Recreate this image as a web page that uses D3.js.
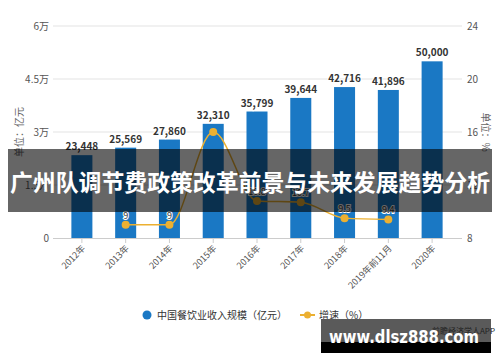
<!DOCTYPE html>
<html>
<head>
  <meta charset="utf-8">
  <title>餐饮业收入规模</title>
  <style>
    body { margin: 0; background: white; }
    svg { display: block; font-family: "Noto Sans CJK SC", "Noto Sans", sans-serif; }
  </style>
</head>
<body>
  <svg width="500" height="362"></svg>

  <script src="https://d3js.org/d3.v7.min.js"></script>
  <script>
    const years = ["2012年", "2013年", "2014年", "2015年", "2016年", "2017年", "2018年", "2019年前11月", "2020年"];
    const revenue = [23448, 25569, 27860, 32310, 35799, 39644, 42716, 41896, 50000];
    const growth = [null, 9, 9, 16, 10.8, 10.7, 9.5, 9.4, null];
    const leftTicks = [0, 15000, 30000, 45000, 60000];
    const leftTickLabels = ["0", "1.5万", "3万", "4.5万", "6万"];
    const rightTicks = [8, 12, 16, 20, 24];

    const barColor = "#1a78c4";
    const lineColor = "#ecb031";
    const svg = d3.select("svg");

    const x = d3.scaleBand().domain(years).range([60, 454]).paddingInner(0.52).paddingOuter(0.26);
    const yL = d3.scaleLinear().domain([0, 60000]).range([238, 26]);
    const yR = d3.scaleLinear().domain([8, 24]).range([238, 26]);
    const cx = d => x(d) + x.bandwidth() / 2;

    // grid
    svg.append("g").selectAll("line")
      .data(leftTicks.slice(1))
      .join("line")
      .attr("x1", 53).attr("x2", 462)
      .attr("y1", d => yL(d)).attr("y2", d => yL(d))
      .attr("stroke", "#e3e3e3");

    // left axis labels
    svg.append("g").selectAll("text")
      .data(leftTicks)
      .join("text")
      .attr("x", 49).attr("y", d => yL(d) + 4)
      .attr("text-anchor", "end")
      .attr("font-size", 10).attr("fill", "#555")
      .text((d, i) => leftTickLabels[i]);

    // right axis labels
    svg.append("g").selectAll("text")
      .data(rightTicks)
      .join("text")
      .attr("x", 467).attr("y", d => yR(d) + 4)
      .attr("font-size", 10).attr("fill", "#555")
      .text(d => d);

    svg.append("text")
      .attr("transform", "translate(23,132) rotate(-90)")
      .attr("text-anchor", "middle").attr("font-size", 10).attr("fill", "#666")
      .text("单位：亿元");
    svg.append("text")
      .attr("transform", "translate(482,132) rotate(90)")
      .attr("text-anchor", "middle").attr("font-size", 10).attr("fill", "#666")
      .text("单位：%");

    // bars
    svg.append("g").selectAll("rect")
      .data(revenue)
      .join("rect")
      .attr("x", (d, i) => x(years[i]))
      .attr("y", d => yL(d))
      .attr("width", x.bandwidth())
      .attr("height", d => yL(0) - yL(d))
      .attr("fill", barColor);

    // x axis
    svg.append("line")
      .attr("x1", 53).attr("x2", 462).attr("y1", 238.5).attr("y2", 238.5)
      .attr("stroke", "#ccc");
    svg.append("g").selectAll("line")
      .data(years)
      .join("line")
      .attr("x1", d => cx(d)).attr("x2", d => cx(d))
      .attr("y1", 238.5).attr("y2", 243)
      .attr("stroke", "#ccc");
    svg.append("g").selectAll("text")
      .data(years)
      .join("text")
      .attr("transform", d => `translate(${cx(d) + 4},${249}) rotate(-45)`)
      .attr("text-anchor", "end")
      .attr("font-size", 9).attr("fill", "#555")
      .text(d => d);

    // bar value labels
    svg.append("g").selectAll("text")
      .data(revenue)
      .join("text")
      .attr("x", (d, i) => cx(years[i]))
      .attr("y", d => yL(d) - 5)
      .attr("text-anchor", "middle")
      .attr("font-size", 10).attr("font-weight", "bold")
      .attr("fill", "#333")
      .attr("stroke", "white").attr("stroke-width", 2).attr("paint-order", "stroke")
      .text(d => d3.format(",")(d));

    // growth line
    const pts = growth.map((g, i) => ({ year: years[i], g })).filter(p => p.g !== null);
    const line = d3.line().x(p => cx(p.year)).y(p => yR(p.g)).curve(d3.curveMonotoneX);
    svg.append("path")
      .attr("d", line(pts))
      .attr("fill", "none").attr("stroke", lineColor).attr("stroke-width", 1.5);
    svg.append("g").selectAll("circle")
      .data(pts)
      .join("circle")
      .attr("cx", p => cx(p.year)).attr("cy", p => yR(p.g))
      .attr("r", 4).attr("fill", lineColor);
    // the 2015 label sits under the bar label in the original, so it is left out
    svg.append("g").selectAll("text")
      .data(pts.filter(p => p.year !== "2015年"))
      .join("text")
      .attr("x", p => cx(p.year)).attr("y", p => yR(p.g) - 6)
      .attr("text-anchor", "middle")
      .attr("font-size", 9).attr("fill", "#333")
      .attr("stroke", "white").attr("stroke-width", 2).attr("paint-order", "stroke")
      .text(p => p.g);

    // legend
    svg.append("circle").attr("cx", 147).attr("cy", 315).attr("r", 4.5).attr("fill", barColor);
    svg.append("text").attr("x", 157).attr("y", 319)
      .attr("font-size", 10).attr("fill", "#333").text("中国餐饮业收入规模（亿元）");
    svg.append("line").attr("x1", 300).attr("x2", 315).attr("y1", 315).attr("y2", 315)
      .attr("stroke", lineColor).attr("stroke-width", 2);
    svg.append("circle").attr("cx", 307.5).attr("cy", 315).attr("r", 3.5).attr("fill", lineColor);
    svg.append("text").attr("x", 319).attr("y", 319)
      .attr("font-size", 10).attr("fill", "#333").text("增速（%）");

    // title banner
    svg.append("rect")
      .attr("x", 8).attr("y", 149).attr("width", 484).attr("height", 63)
      .attr("fill", "black").attr("fill-opacity", 0.6);
    svg.append("text")
      .attr("x", 250).attr("y", 191)
      .attr("text-anchor", "middle")
      .attr("font-size", 23).attr("font-weight", "bold").attr("fill", "white")
      .attr("textLength", 480).attr("lengthAdjust", "spacingAndGlyphs")
      .text("广州队调节费政策改革前景与未来发展趋势分析");

    // site mark bottom right
    svg.append("rect").attr("x", 321).attr("y", 319).attr("width", 170).attr("height", 23).attr("fill", "#5a5a5a");
    svg.append("rect").attr("x", 321).attr("y", 342).attr("width", 170).attr("height", 11).attr("fill", "black");
    svg.append("text").attr("x", 495).attr("y", 334).attr("text-anchor", "end")
      .attr("font-size", 8).attr("fill", "#222").text("前瞻经济学人APP");
    svg.append("text").attr("x", 404).attr("y", 343).attr("text-anchor", "middle")
      .attr("font-size", 17).attr("font-weight", "bold").attr("fill", "white")
      .attr("font-family", "'DejaVu Sans', sans-serif")
      .attr("textLength", 150).attr("lengthAdjust", "spacingAndGlyphs")
      .text("www.dlsz888.com");
  </script>
</body>
</html>
